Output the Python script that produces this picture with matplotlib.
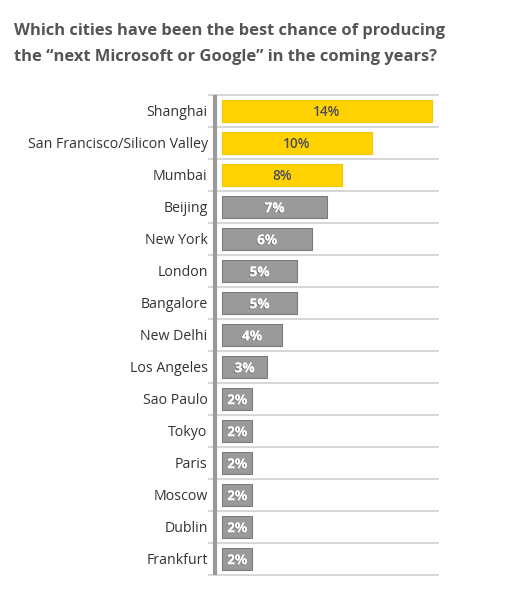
import numpy as np
import matplotlib.pyplot as plt
from matplotlib import patheffects

cities = ['Shanghai', 'San Francisco/Silicon Valley', 'Mumbai', 'Beijing', 'New York',
          'London', 'Bangalore', 'New Delhi', 'Los Angeles', 'Sao Paulo', 'Tokyo',
          'Paris', 'Moscow', 'Dublin', 'Frankfurt']
values = [14, 10, 8, 7, 6, 5, 5, 4, 3, 2, 2, 2, 2, 2, 2]
highlight = [True, True, True] + [False] * 12

W, H = 515, 589
fig = plt.figure(figsize=(W / 100, H / 100), dpi=100)
fig.patch.set_facecolor('white')

# axes placed in pixel terms
x0, x1, y0, y1 = 208, 439, 94, 578
ax = fig.add_axes([x0 / W, 1 - y1 / H, (x1 - x0) / W, (y1 - y0) / H])
ax.set_xlim((x0 - 222) / 15, (x1 - 222) / 15)
ax.set_ylim((y1 - 111) / 32, (y0 - 111) / 32)
ax.axis('off')

pos = np.arange(len(cities))
cols = ['#ffd200' if h else '#9a9a9a' for h in highlight]
edges = ['#f2c500' if h else '#7a7a7a' for h in highlight]
ax.barh(pos, values, left=0, height=0.68, color=cols, edgecolor=edges, linewidth=0.8, zorder=3)

# row separators and left rule
for b in np.arange(-0.5, len(cities), 1.0):
    ax.axhline(b, color='#cfcfcf', lw=1.2, zorder=1)
ax.plot([-0.5, -0.5], [-0.5, len(cities) - 0.5], color='#999999', lw=3, zorder=2,
        solid_capstyle='butt')

fam = ['Open Sans', 'DejaVu Sans']
for i, (c, v, h) in enumerate(zip(cities, values, highlight)):
    ax.text(-0.95, i + 0.06, c, ha='right', va='center', fontsize=10.2, color='#333333', family=fam)
    if h:
        ax.text(v / 2, i + 0.04, '%d%%' % v, ha='center', va='center', fontsize=9.8, color='#4b4b5e',
                family=fam, fontweight='semibold', zorder=4)
    else:
        t = ax.text(v / 2, i + 0.04, '%d%%' % v, ha='center', va='center', fontsize=9.8, color='white',
                    family=fam, fontweight='bold', zorder=4)
        t.set_path_effects([patheffects.withSimplePatchShadow(offset=(-0.6, -0.6), shadow_rgbFace='#555555', alpha=0.6),
                            patheffects.Normal()])

fig.text(14 / W, 1 - 31 / H, 'Which cities have been the best chance of producing',
         fontsize=11.85, fontweight='bold', color='#555555', family=fam, va='center')
fig.text(14 / W, 1 - 57 / H, 'the \u201cnext Microsoft or Google\u201d in the coming years?',
         fontsize=11.85, fontweight='bold', color='#555555', family=fam, va='center')

fig.savefig('out.png', dpi=100)
